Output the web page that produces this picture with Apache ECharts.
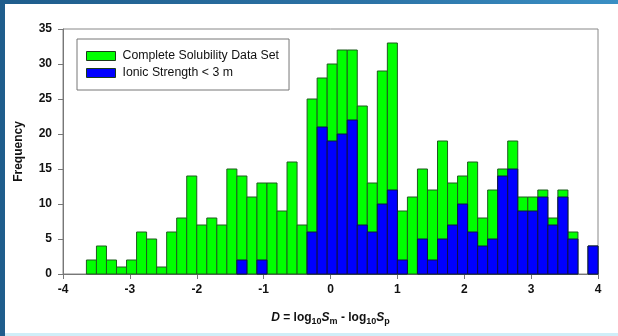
<!DOCTYPE html>
<html>
<head>
<meta charset="utf-8">
<script src="https://cdn.jsdelivr.net/npm/echarts@6/dist/echarts.min.js"></script>
<style>
html,body{margin:0;padding:0;width:618px;height:336px;overflow:hidden;}
body{background:linear-gradient(90deg,#1f5d8c 0%,#2c73a6 60%,#3a8fc4 100%);position:relative;}
#bg{position:absolute;left:5px;top:4px;right:0;bottom:3px;background:#fff;}
#strip{position:absolute;left:5px;right:0;bottom:0;height:3px;background:#cfeef8;}
#chart{position:absolute;left:0;top:0;width:618px;height:336px;}
</style>
</head>
<body>
<div id="bg"></div>
<div id="strip"></div>
<div id="chart"></div>
<script>
// Bin left edges (D values)
var binStart = [-3.65,-3.5,-3.35,-3.2,-3.05,-2.9,-2.75,-2.6,-2.45,-2.3,-2.15,-2.0,-1.85,-1.7,-1.55,-1.4,-1.25,-1.1,-0.95,-0.8,-0.65,-0.5,-0.35,-0.2,-0.05,0.1,0.25,0.4,0.55,0.7,0.85,1.0,1.15,1.3,1.45,1.6,1.75,1.9,2.05,2.2,2.35,2.5,2.65,2.8,2.95,3.1,3.25,3.4,3.55,3.7,3.85];
var binWidth = 0.15;
// Complete solubility data set frequencies
var completeFreq = [2,4,2,1,2,6,5,1,6,8,14,7,8,7,15,14,11,13,13,9,16,7,25,28,30,32,32,24,13,29,33,9,11,15,12,19,13,14,16,8,12,15,19,11,11,12,8,12,6,0,4];
// Ionic strength < 3 m frequencies
var ionicFreq = [0,0,0,0,0,0,0,0,0,0,0,0,0,0,0,2,0,2,0,0,0,0,6,21,19,20,22,7,6,10,12,2,0,5,2,5,7,10,6,4,5,14,15,9,9,11,7,11,5,0,4];
var xTicks = [-4,-3,-2,-1,0,1,2,3,4];
var yTicks = [0,5,10,15,20,25,30,35];

function toData(vals){
  return binStart.map(function(s,i){ return [s, s+binWidth, vals[i]]; });
}
function renderItem(params, api){
  var y = api.value(2);
  if (!y) return null;
  var p0 = api.coord([api.value(0), y]);
  var p1 = api.coord([api.value(1), 0]);
  return {
    type:'rect',
    shape:{x:p0[0], y:p0[1], width:p1[0]-p0[0], height:p1[1]-p0[1]},
    style: api.style()
  };
}

var chart = echarts.init(document.getElementById('chart'));
var font = '"Liberation Sans", Arial, sans-serif';
chart.setOption({
  backgroundColor:'transparent',
  animation:false,
  textStyle:{fontFamily:font},
  grid:{left:63,right:20,top:29,bottom:62,show:true,borderColor:'#888',borderWidth:1,backgroundColor:'transparent'},
  legend:{
    left:77, top:39, orient:'vertical',
    padding:[11,10,11,9], itemGap:5,
    itemWidth:29, itemHeight:9, icon:'rect',
    borderColor:'#777', borderWidth:1,
    textStyle:{fontFamily:font,fontSize:12.3,color:'#111',padding:[0,0,0,2]},
    itemStyle:{borderColor:'#1a3a1a',borderWidth:1},
    data:['Complete Solubility Data Set','Ionic Strength < 3 m']
  },
  xAxis:{
    type:'value', min:-4, max:4, interval:1,
    axisLine:{show:true,onZero:false,lineStyle:{color:'#777',width:1}},
    axisTick:{show:true,length:5,lineStyle:{color:'#777'}},
    splitLine:{show:false},
    axisLabel:{fontFamily:font,fontSize:12,fontWeight:'bold',color:'#111',margin:10,
      formatter:function(v){ return xTicks.indexOf(v)>=0 ? String(v) : ''; }},
    name:'{i|D} = log{sub|10}{i|S}{sub2|m} - log{sub|10}{i|S}{sub2|p}',
    nameLocation:'middle', nameGap:36,
    nameTextStyle:{fontFamily:font,fontSize:12,fontWeight:'bold',color:'#111',
      rich:{
        i:{fontFamily:font,fontSize:12,fontWeight:'bold',fontStyle:'italic',color:'#111'},
        sub:{fontFamily:font,fontSize:9,fontWeight:'bold',color:'#111',padding:[7,0,0,0]},
        sub2:{fontFamily:font,fontSize:9,fontWeight:'bold',color:'#111',padding:[7,0,0,0]}
      }}
  },
  yAxis:{
    type:'value', min:0, max:35, interval:5,
    axisLine:{show:true,onZero:false,lineStyle:{color:'#777',width:1}},
    axisTick:{show:true,length:5,lineStyle:{color:'#777'}},
    splitLine:{show:false},
    axisLabel:{fontFamily:font,fontSize:12,fontWeight:'bold',color:'#111',margin:11,
      formatter:function(v){ return yTicks.indexOf(v)>=0 ? String(v) : ''; }},
    name:'Frequency', nameLocation:'middle', nameGap:38,
    nameTextStyle:{fontFamily:font,fontSize:12,fontWeight:'bold',color:'#111'}
  },
  series:[
    {name:'Complete Solubility Data Set', type:'custom', renderItem:renderItem,
     encode:{x:[0,1],y:2}, data:toData(completeFreq),
     itemStyle:{color:'#00ff00',borderColor:'#1f5a1f',borderWidth:1}},
    {name:'Ionic Strength < 3 m', type:'custom', renderItem:renderItem,
     encode:{x:[0,1],y:2}, data:toData(ionicFreq),
     itemStyle:{color:'#0000ff',borderColor:'#10104a',borderWidth:1}}
  ]
});
</script>
</body>
</html>
